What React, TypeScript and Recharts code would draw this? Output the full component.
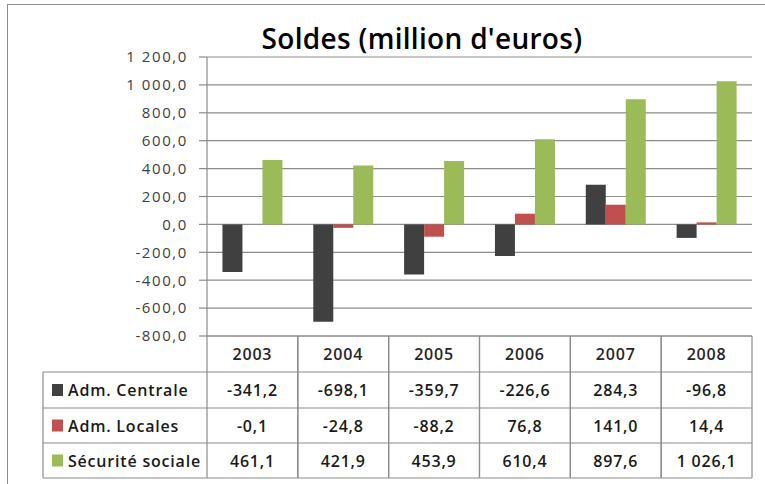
import React from 'react';
import { BarChart, Bar, XAxis, YAxis, CartesianGrid } from 'recharts';

const categories = ['2003', '2004', '2005', '2006', '2007', '2008'];
const admCentrale = [-341.2, -698.1, -359.7, -226.6, 284.3, -96.8];
const admLocales = [-0.1, -24.8, -88.2, 76.8, 141.0, 14.4];
const securiteSociale = [461.1, 421.9, 453.9, 610.4, 897.6, 1026.1];
const seriesNames = ['Adm. Centrale', 'Adm. Locales', 'Sécurité sociale'];
const seriesKeys = ['centrale', 'locales', 'secu'];
const seriesValues = [admCentrale, admLocales, securiteSociale];
const seriesColors = ['#404040', '#C0504D', '#9BBB59'];
const yTicks = [-800, -600, -400, -200, 0, 200, 400, 600, 800, 1000, 1200];
const title = "Soldes (million d'euros)";

const data = categories.map((c, i) => ({
  year: c,
  centrale: admCentrale[i],
  locales: admLocales[i],
  secu: securiteSociale[i],
}));

const W = 765;
const H = 484;
const MARGIN = { top: 57, right: 13, bottom: 0, left: 0 };
const Y_AXIS_W = 207;
const PLOT_W = W - MARGIN.right - Y_AXIS_W;
const COL_W = PLOT_W / categories.length;
const ROW_Y = [0, 36, 72, 107, 142];
const LEGEND_W = 164;
const LINE = '#8c8c8c';
const FONT = '"Open Sans", "DejaVu Sans", sans-serif';
const TXT = { fontSize: 16, fontFamily: FONT, fontWeight: 600, letterSpacing: 0.8 };

const fmt = (v: number) => {
  const s = Math.abs(v).toFixed(1);
  const [ip, dp] = s.split('.');
  const ii = ip.replace(/\B(?=(\d{3})+(?!\d))/g, ' ');
  return (v < 0 ? '-' : '') + ii + ',' + dp;
};

function TableTick(props: any) {
  const { x, y, index } = props;
  const left = x - COL_W / 2;
  const right = x + COL_W / 2;
  const bottom = y + ROW_Y[4];
  const els: any[] = [];
  els.push(<line key="vl" x1={left} y1={y} x2={left} y2={bottom} stroke={LINE} strokeWidth={1.2} />);
  els.push(<line key="vr" x1={right} y1={y} x2={right} y2={bottom} stroke={LINE} strokeWidth={1.2} />);
  for (let r = 1; r < ROW_Y.length; r++) {
    els.push(
      <line key={'h' + r} x1={left} y1={y + ROW_Y[r]} x2={right} y2={y + ROW_Y[r]} stroke={LINE} strokeWidth={1.2} />
    );
  }
  els.push(
    <text key="yr" x={x} y={y + (ROW_Y[0] + ROW_Y[1]) / 2} textAnchor="middle" dominantBaseline="central"
      {...TXT} fill="#262626">{categories[index]}</text>
  );
  seriesValues.forEach((vals, s) => {
    els.push(
      <text key={'v' + s} x={x} y={y + (ROW_Y[s + 1] + ROW_Y[s + 2]) / 2} textAnchor="middle" dominantBaseline="central"
        {...TXT} fill="#1a1a1a">{fmt(vals[index])}</text>
    );
  });
  if (index === 0) {
    const lx = left - LEGEND_W;
    els.push(<line key="ll" x1={lx} y1={y + ROW_Y[1]} x2={lx} y2={bottom} stroke={LINE} strokeWidth={1.2} />);
    for (let r = 1; r < ROW_Y.length; r++) {
      els.push(
        <line key={'lh' + r} x1={lx} y1={y + ROW_Y[r]} x2={left} y2={y + ROW_Y[r]} stroke={LINE} strokeWidth={1.2} />
      );
    }
    seriesNames.forEach((n, s) => {
      const cy = y + (ROW_Y[s + 1] + ROW_Y[s + 2]) / 2;
      els.push(<rect key={'sq' + s} x={lx + 9} y={cy - 6} width={11} height={12} fill={seriesColors[s]} />);
      els.push(
        <text key={'ln' + s} x={lx + 25} y={cy} dominantBaseline="central" {...TXT} fill="#1a1a1a">{n}</text>
      );
    });
  }
  return <g>{els}</g>;
}

export default function App() {
  return (
    <div style={{ position: 'absolute', left: 0, top: 0, width: W, height: H, overflow: 'hidden', background: '#fff' }}>
      <div style={{ position: 'absolute', left: 7, top: 4, width: W, height: H, borderTop: '1.5px solid #8c8c8c', borderLeft: '1.5px solid #8c8c8c' }} />
      <div style={{ position: 'absolute', left: 0, top: 20, width: 844, textAlign: 'center', fontFamily: FONT, fontSize: 28, fontWeight: 600, letterSpacing: 0.3, color: '#000', lineHeight: '36px' }}>
        {title}
      </div>
      <BarChart width={W} height={H} data={data} margin={MARGIN} barCategoryGap="17%" barGap={0}>
        <CartesianGrid vertical={false} stroke={LINE} strokeWidth={1.2} />
        <XAxis dataKey="year" height={H - MARGIN.top - 279} interval={0} tickLine={false} tickSize={0} tickMargin={0}
          axisLine={{ stroke: LINE, strokeWidth: 1.2 }} tick={<TableTick />} />
        <YAxis width={Y_AXIS_W} domain={[-800, 1200]} ticks={yTicks} interval={0} tickFormatter={fmt}
          tickSize={8} tickMargin={11} axisLine={{ stroke: LINE, strokeWidth: 1.2 }} tickLine={{ stroke: LINE, strokeWidth: 1.2 }}
          tick={{ fontSize: 15, fontFamily: FONT, fill: '#404040', letterSpacing: 1.6 }} />
        {seriesKeys.map((k, s) => (
          <Bar key={k} dataKey={k} name={seriesNames[s]} fill={seriesColors[s]} isAnimationActive={false} />
        ))}
      </BarChart>
    </div>
  );
}
